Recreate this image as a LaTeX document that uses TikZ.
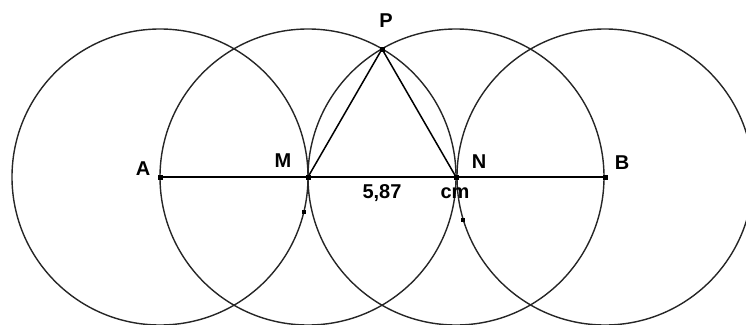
\documentclass[tikz,border=0pt]{standalone}
\usepackage{fontspec}
\setmainfont{Liberation Sans}
\begin{document}
\begin{tikzpicture}[x=1pt,y=-1pt,
  curve/.style={line width=1.4pt,black!85},
  seg/.style={line width=1.5pt,black},
  pt/.style={fill=black,inner sep=0pt,minimum size=5pt,rectangle},
  lbl/.style={font=\fontsize{20}{20}\bfseries\selectfont,inner sep=0pt}]
\useasboundingbox (0,0) rectangle (746,324);
\clip (0,0) rectangle (746,324);
\coordinate (A) at (160,177);
\coordinate (M) at (308,177);
\coordinate (N) at (456,177);
\coordinate (B) at (605,177);
\coordinate (P) at (382,49);
\draw[curve] (A) circle[radius=148];
\draw[curve] (M) circle[radius=148];
\draw[curve] (N) circle[radius=148];
\draw[curve] (B) circle[radius=148];
\draw[seg] (A) -- (B);
\draw[seg] (M) -- (P) -- (N);
\node[pt] (pA) at (A) {};
\node[pt] (pM) at (M) {};
\node[pt] (pN) at (N) {};
\node[pt] (pB) at (B) {};
\node[pt] (pP) at (P) {};
\node[pt,minimum size=4.5pt] (q1) at (304,212) {};
\node[pt,minimum size=4.5pt] (q2) at (463,220) {};
\node[lbl] (lA) at (143,169) {A};
\node[lbl] (lM) at (283,161) {M};
\node[lbl] (lN) at (479,162) {N};
\node[lbl] (lB) at (622,163) {B};
\node[lbl] (lP) at (386,21) {P};
\node[lbl] (l587) at (382,193) {5,87};
\node[lbl] (lcm) at (455,193) {cm};
\end{tikzpicture}
\end{document}
